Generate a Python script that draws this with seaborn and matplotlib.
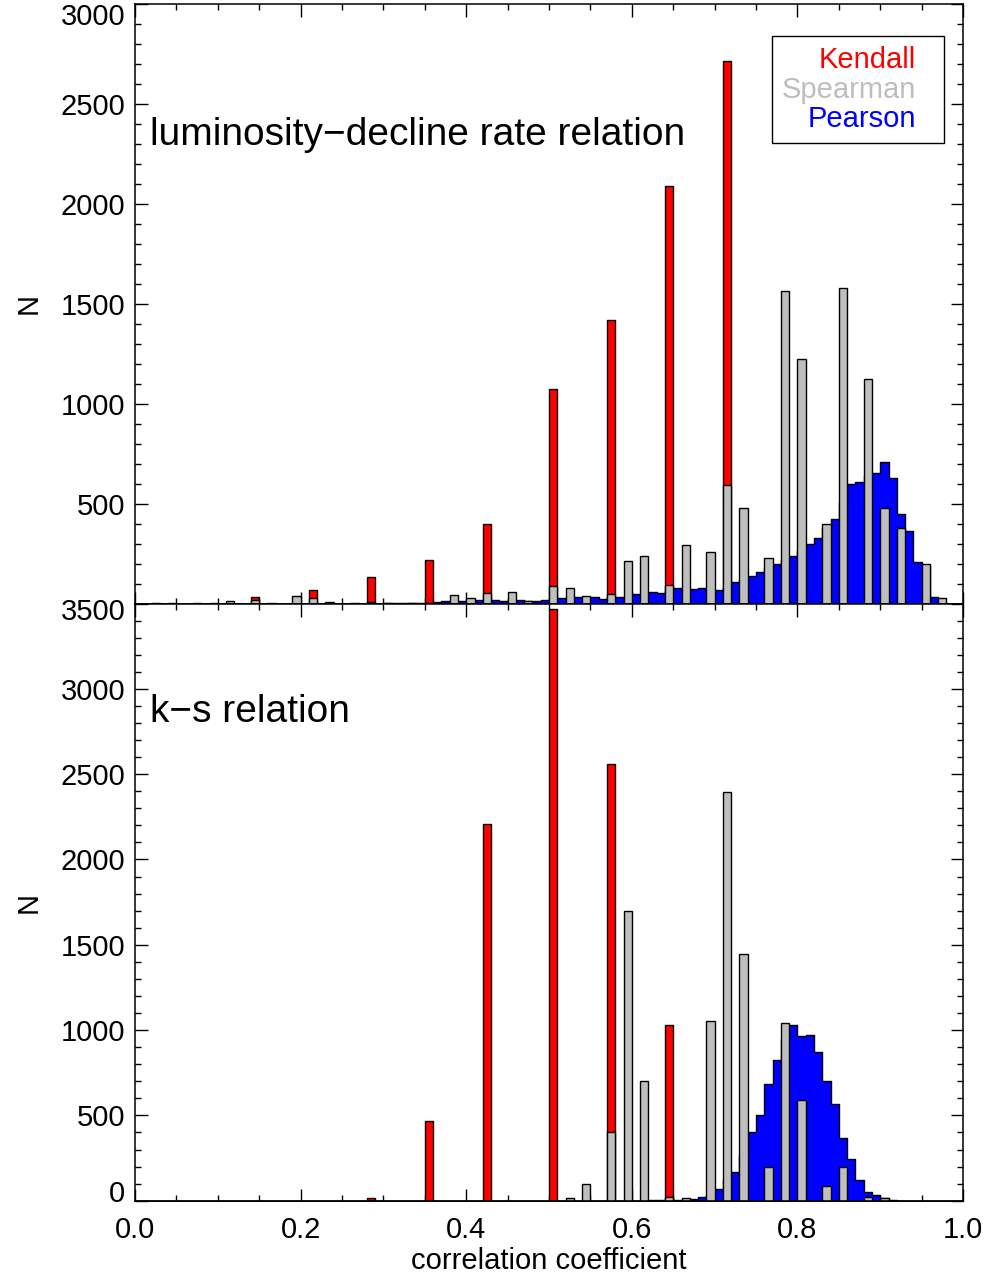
import numpy as np
import matplotlib
matplotlib.use("Agg")
import matplotlib.pyplot as plt
from matplotlib.ticker import MultipleLocator, FormatStrFormatter
from matplotlib.lines import Line2D
from matplotlib.transforms import ScaledTranslation
import seaborn as sns

# histogram grid: bins of width 0.01 between 0 and 1
bin_width = 0.01
bin_range = (0, 1)

# ---- top panel: luminosity-decline rate relation ----
kendall_top_r = [0.075, 0.145, 0.215, 0.285, 0.355, 0.425, 0.505, 0.575, 0.645, 0.715]
kendall_top_n = [5, 31, 67, 131, 218, 398, 1071, 1417, 2087, 2717]

spearman_top_r = [0.025, 0.045, 0.095, 0.115, 0.145, 0.165, 0.195, 0.215, 0.235, 0.265,
                  0.285, 0.305, 0.335, 0.355, 0.385, 0.405, 0.425, 0.455, 0.475, 0.505,
                  0.525, 0.545, 0.575, 0.595, 0.615, 0.645, 0.665, 0.695, 0.715, 0.735,
                  0.765, 0.785, 0.805, 0.835, 0.855, 0.885, 0.905, 0.925, 0.955, 0.975]
spearman_top_n = [3, 3, 4, 14, 17, 3, 37, 29, 10, 3,
                  7, 3, 4, 5, 42, 26, 51, 59, 14, 87,
                  76, 39, 49, 211, 237, 92, 294, 257, 591, 476,
                  226, 1562, 1222, 397, 1577, 1122, 476, 379, 196, 26]

pearson_top_first_bin = 30
pearson_top_n = [3, 2, 4, 3, 5, 4, 6, 11, 10, 12,
                 14, 17, 15, 20, 12, 15, 17, 14, 12, 17,
                 22, 26, 28, 34, 35, 31, 22, 33, 34, 40,
                 46, 50, 56, 52, 65, 79, 72, 71, 76, 70,
                 67, 90, 106, 120, 137, 156, 180, 196, 220, 239,
                 270, 297, 327, 380, 424, 510, 596, 606, 640, 654,
                 709, 629, 446, 364, 209, 190, 31, 8]

# ---- bottom panel: k-s relation ----
kendall_bot_r = [0.285, 0.355, 0.425, 0.505, 0.575, 0.645]
kendall_bot_n = [14, 469, 2210, 3469, 2557, 1028]

spearman_bot_r = [0.525, 0.545, 0.575, 0.595, 0.615, 0.645, 0.665, 0.695, 0.715,
                  0.735, 0.765, 0.785, 0.805, 0.835, 0.855, 0.885, 0.905]
spearman_bot_n = [14, 96, 402, 1696, 700, 24, 14, 1053, 2398,
                  1443, 196, 1043, 590, 86, 196, 20, 18]

pearson_bot_first_bin = 62
pearson_bot_n = [2, 3, 3, 5, 8, 12, 20, 35, 67, 130,
                 170, 270, 400, 500, 686, 826, 950, 1028, 965, 973,
                 873, 700, 565, 367, 247, 122, 51, 32, 15, 5]

legend_labels = ["Kendall", "Spearman", "Pearson"]
legend_colors = ["red", "#bebebe", "blue"]


def bin_centers(first_bin, counts):
    return [(first_bin + i) * bin_width + bin_width / 2 for i in range(len(counts))]


def draw_panel(ax, k_r, k_n, s_r, s_n, p_first, p_n):
    sns.histplot(x=k_r, weights=k_n, binwidth=bin_width, binrange=bin_range,
                 element="bars", fill=True, color="red", edgecolor="black",
                 linewidth=1.0, alpha=1, ax=ax)
    sns.histplot(x=bin_centers(p_first, p_n), weights=p_n, binwidth=bin_width,
                 binrange=bin_range, element="step", fill=True, color="blue",
                 edgecolor="black", linewidth=1.0, alpha=1, ax=ax)
    sns.histplot(x=s_r, weights=s_n, binwidth=bin_width, binrange=bin_range,
                 element="bars", fill=True, color="#bebebe", edgecolor="black",
                 linewidth=1.0, alpha=1, ax=ax)

    ax.set_xlim(0, 1)
    ax.xaxis.set_major_locator(MultipleLocator(0.2))
    ax.xaxis.set_minor_locator(MultipleLocator(0.05))
    ax.yaxis.set_major_locator(MultipleLocator(500))
    ax.yaxis.set_minor_locator(MultipleLocator(100))
    ax.tick_params(which="both", direction="in", top=True, right=True,
                   width=1.0, labelsize=21, color="black", labelcolor="black")
    ax.tick_params(which="major", length=9)
    ax.tick_params(which="minor", length=4)
    ax.tick_params(axis="y", pad=7)
    ax.tick_params(axis="x", pad=11)
    for sp in ax.spines.values():
        sp.set_linewidth(1.1)
        sp.set_color("black")
    ax.set_ylabel("N", fontsize=21, color="black")
    ax.yaxis.set_label_coords(-0.111, 0.5)
    ax.set_xlabel("")


sns.set_style("ticks")
plt.rcParams["font.family"] = ["Liberation Sans", "DejaVu Sans"]
plt.rcParams["text.color"] = "black"
plt.rcParams["axes.labelcolor"] = "black"

fig = plt.figure(figsize=(9.92, 12.81), dpi=100)
ax_top = fig.add_axes([0.1361, 0.52888, 0.8347, 0.46800])
ax_bot = fig.add_axes([0.1361, 0.06269, 0.8347, 0.46619])

draw_panel(ax_top, kendall_top_r, kendall_top_n, spearman_top_r, spearman_top_n,
           pearson_top_first_bin, pearson_top_n)
draw_panel(ax_bot, kendall_bot_r, kendall_bot_n, spearman_bot_r, spearman_bot_n,
           pearson_bot_first_bin, pearson_bot_n)

ax_top.set_ylim(0, 3000)
ax_top.set_yticks(np.arange(0, 3001, 500))
ax_top.set_yticklabels([""] + [str(v) for v in range(500, 3001, 500)])
ax_top.tick_params(axis="x", labelbottom=False)

ax_bot.set_ylim(0, 3500)
ax_bot.set_yticks(np.arange(0, 3501, 500))
ax_bot.set_yticklabels([str(v) for v in range(0, 3501, 500)])
ax_bot.xaxis.set_major_formatter(FormatStrFormatter("%.1f"))
ax_bot.set_xlabel("correlation coefficient", fontsize=21)
ax_bot.xaxis.set_label_coords(0.5, -0.077)

ax_top.text(0.018, 0.781, "luminosity\u2212decline rate relation", fontsize=28,
            ha="left", va="center", transform=ax_top.transAxes)
ax_bot.text(0.018, 0.818, "k\u2212s relation", fontsize=28,
            ha="left", va="center", transform=ax_bot.transAxes)

handles = [Line2D([], [], linestyle="none") for _ in legend_labels]
leg = ax_top.legend(handles, legend_labels, loc="upper right",
                    bbox_to_anchor=(0.977, 0.9466), labelcolor=legend_colors,
                    markerfirst=False, handlelength=0.6, handletextpad=0,
                    borderpad=0.35, labelspacing=0.05, fancybox=False,
                    edgecolor="black", framealpha=1, fontsize=21,
                    borderaxespad=0)
leg.get_frame().set_linewidth(1.0)

# nudge the end labels inwards like the original plot
def nudge(label, dy_px):
    label.set_transform(label.get_transform() +
                        ScaledTranslation(0, dy_px / 100, fig.dpi_scale_trans))

top_labels = ax_top.yaxis.get_majorticklabels()
bot_labels = ax_bot.yaxis.get_majorticklabels()
nudge(top_labels[-1], -10)
nudge(bot_labels[-1], -5)
nudge(bot_labels[0], 10)

fig.savefig("out.png", dpi=100)
